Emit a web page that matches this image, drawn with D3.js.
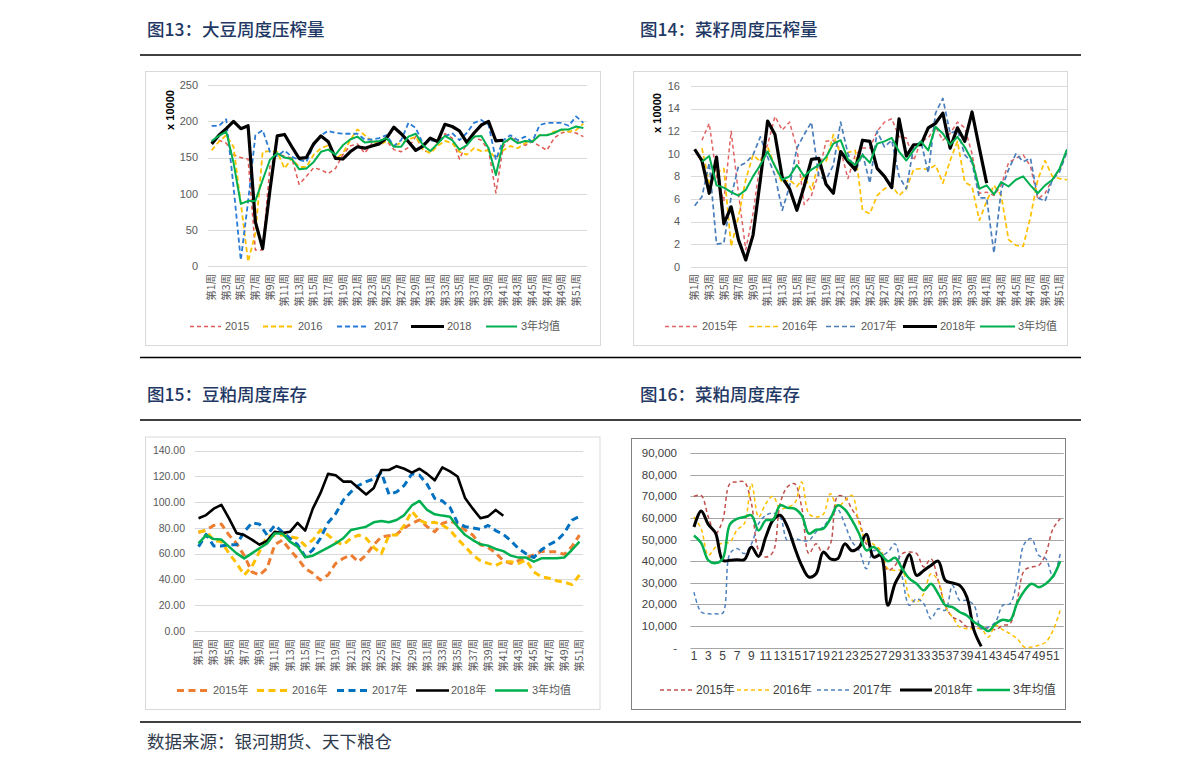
<!DOCTYPE html>
<html><head><meta charset="utf-8">
<script src="https://cdn.jsdelivr.net/npm/d3@7"></script>
<style>
html,body{margin:0;padding:0;background:#fff;}
svg{display:block;}
text{font-family:"Liberation Sans","Noto Sans CJK SC",sans-serif;}
</style></head><body>
<svg id="chart" width="1191" height="770"></svg>
<script>
// ---------- categories ----------
const weeks52 = d3.range(1, 53).map(n => "第" + n + "周");
const weeks51 = d3.range(1, 52).map(n => "第" + n + "周");
const weekNums52 = d3.range(1, 53).map(n => String(n));

// ---------- 图13 大豆周度压榨量 (x10000) ----------
const p1Names = ["2015", "2016", "2017", "2018", "3年均值"];
const p1Y2015 = [173,174,170,154,150,148,22,22,138,155,152,149,113,124,136,133,128,135,154,166,169,156,170,172,173,161,158,164,179,160,157,170,183,177,148,170,178,174,160,101,165,178,172,167,172,166,160,177,184,186,184,179];
const p1Y2016 = [160,172,181,165,87,6,45,158,159,158,135,149,137,137,154,163,167,148,156,174,189,181,173,167,173,167,170,175,179,161,156,166,173,170,158,154,163,159,160,149,160,166,163,170,173,181,181,186,188,186,188,197];
const p1Y2017 = [194,194,203,110,8,89,181,188,158,152,160,151,147,144,167,181,187,184,183,183,183,175,175,177,181,166,174,198,191,169,174,172,179,184,174,184,198,202,195,147,174,181,174,179,172,195,198,198,198,194,207,198];
const p1Y2018 = [169,181,190,200,190,194,61,24,105,180,182,165,149,150,169,180,172,149,148,158,165,163,166,169,177,192,183,172,160,166,177,172,196,193,187,171,184,195,200,173,174];
const p1Avg   = [173,180,186,143,86,90,90,119,147,156,150,148,134,135,144,158,161,154,167,175,179,171,172,173,177,165,165,179,183,167,159,169,180,174,161,167,179,180,163,126,170,177,170,173,172,181,181,184,189,189,193,191];
const p1YTicks = [0, 50, 100, 150, 200, 250];

// ---------- 图14 菜籽周度压榨量 (x10000) ----------
const p2Names = ["2015年", "2016年", "2017年", "2018年", "3年均值"];
const p2Y2015 = [null,11.2,12.7,8.0,5.8,12.0,6.5,1.5,4.7,9.4,10.8,13.3,12.1,12.8,10.5,5.5,6.3,8.3,11.1,11.2,10.3,7.8,9.9,10.5,10.5,12.0,12.8,13.1,11.5,11.4,9.4,11.1,11.4,12.4,11.2,11.8,12.8,12.3,10.0,6.5,6.6,6.3,7.2,9.2,9.6,9.9,8.9,6.0,6.5,7.7,8.6,10.2];
const p2Y2016 = [null,10.5,7.4,8.3,8.7,1.8,4.4,7.7,9.9,9.3,10.6,8.9,7.4,7.7,7.1,8.0,6.8,9.2,9.3,11.7,9.9,10.1,10.3,5.0,4.7,6.3,6.9,7.2,6.3,6.9,8.6,8.7,8.6,9.0,7.4,9.4,11.1,7.5,7.1,4.1,5.8,7.2,6.3,2.4,1.9,1.8,4.4,7.7,9.4,8.0,7.8,7.7];
const p2Y2017 = [5.4,6.2,9.2,2.0,2.1,6.2,8.9,9.2,9.9,11.5,9.7,8.1,5.0,7.1,10.5,11.7,12.8,8.0,7.7,9.0,12.8,10.0,8.4,10.0,7.4,12.0,10.6,11.2,8.0,6.9,10.6,11.1,8.3,13.6,14.9,11.8,12.1,9.9,9.2,6.1,6.1,1.2,6.8,8.6,10.0,9.3,9.6,6.1,5.8,7.7,8.4,10.2];
const p2Y2018 = [10.4,9.4,6.5,9.7,3.8,5.3,2.4,0.6,2.8,7.7,12.9,11.7,7.9,6.9,5.0,7.1,9.5,9.6,7.3,6.5,10.2,9.3,8.6,11.2,11.1,8.7,8.0,7.0,13.1,9.8,10.8,10.8,12.3,12.7,13.6,10.5,12.3,11.1,13.7,10.5,7.4];
const p2Avg   = [null,9.3,9.8,7.2,7.0,6.6,6.3,6.8,8.0,9.0,10.2,8.9,7.7,8.0,9.0,8.0,8.6,9.0,9.7,10.9,11.2,9.5,9.0,9.9,9.2,10.9,11.1,11.4,10.2,9.4,10.3,11.1,10.3,12.4,11.8,10.8,11.5,10.6,9.4,6.9,7.2,6.4,7.5,7.1,7.7,8.0,7.2,6.5,7.2,7.7,8.7,10.4];
const p2YTicks = [0, 2, 4, 6, 8, 10, 12, 14, 16];

// ---------- 图15 豆粕周度库存 ----------
const p3Names = ["2015年", "2016年", "2017年", "2018年", "3年均值"];
const p3Y2015 = [76.5,78.4,82,83,74.5,68,58.5,46,43.5,48.6,67,70.6,63,56.4,48.6,44.8,39.6,43.5,52.5,56.4,59,53.8,59,67,73,74,75,80,83.5,86.2,81,77,83.5,85.4,83,78.4,74.5,67,64.9,60.6,54.6,52.5,54.6,57,59,62,61.5,61.5,59.5,65.5,74.5];
const p3Y2016 = [77,78,70,69.4,60.3,52.5,43.5,50,61.6,73.2,74.5,74.5,73.2,72,66.3,70.6,78.4,74.5,69.4,66.8,72,74.5,72,65,60,74.5,74.5,82,93,86,83.5,84.4,82.3,78.4,71.4,65.5,59,54.6,52.5,50.8,53.8,53.8,52.5,55,46,42,41,39,38,36,43.5];
const p3Y2017 = [65.5,75,66,66,67,67,77,84,83,74.5,82,77,72,67,58,63,72,84,91,101.6,108,113,116,118,123,106,108,113,122,121,114,103,101,96,84,81,80,79,82,78,75,70,64,60,57,63,67,70,76,86,89];
const p3Y2018 = [87.5,90,95,98,87.5,76,74.5,71,67,70,77,76,77,84,78,95,107,122,121,116,116,111,106,111,125,125,128,126,123,126,122,117,127,124,120,103,95,87.5,89,94,89.5];
const p3Avg   = [68,74.5,71.4,71,65.5,60.3,56.4,60.3,64.2,68,75.8,75.8,69.4,65.5,57.2,58.5,61.6,64.7,68,72,78.4,79.7,81,84.4,85.4,84.4,86.2,90,97.5,101,94,90.6,89.6,88.8,81,74.5,70.6,67.3,66.3,63.7,62,58.5,57,57,53.8,56.4,56.4,56.4,57,62.9,69.4];
const p3YTicks = [0, 20, 40, 60, 80, 100, 120, 140];

// ---------- 图16 菜粕周度库存 ----------
const p4Names = ["2015年", "2016年", "2017年", "2018年", "3年均值"];
const p4Y2015 = [70000,70400,60400,52700,58900,75800,76600,76600,66600,45000,41900,44200,66600,74300,75800,65000,43500,48000,43500,48000,70000,69600,64000,58900,48000,46500,45000,35700,38000,43500,44200,43500,37300,41100,31100,19600,14200,12600,9600,9200,8800,9100,8300,10300,11100,21900,35700,37300,38000,43500,55000,59600];
const p4Y2016 = [60400,55000,42700,46500,48400,48800,54500,57300,75800,60400,66600,70000,64300,65000,66600,76600,61900,60400,61600,71200,65000,68000,70400,57300,49600,47800,45000,36500,35700,35700,23400,21100,25000,34200,31100,18800,14200,9600,8800,8800,8800,4900,10300,8300,6500,4200,300,300,1100,2600,8000,17300];
const p4Y2017 = [25700,16500,15700,15700,16000,43500,45800,43500,48000,57300,61200,62200,60400,49600,50400,49600,49600,53500,55800,60400,63800,57000,49000,45000,36500,45000,42700,44200,48000,32700,19600,22700,20300,13400,18000,17300,28800,21900,21900,19600,8800,9600,11900,19600,20300,31100,48000,50400,42700,41100,32700,43500];
const p4Y2018 = [55800,63200,57000,53000,40400,40400,40700,40700,46500,42200,51200,58900,61200,56000,46500,38000,32700,34200,44200,41100,41100,48000,44800,46500,52400,41900,42700,19600,29600,35700,43100,33400,35700,38000,40000,31100,29900,28800,23400,8000,600];
const p4Avg   = [51900,48400,40400,39100,41100,57000,59600,60400,61200,54200,58900,59200,65800,64700,64300,61200,52700,54500,55000,59600,65800,63900,59000,52700,45000,46500,43500,40000,41600,36500,31900,29600,26500,29600,25000,19600,18800,16500,14900,11900,9900,7700,11100,12900,12600,20600,26200,29600,28000,29600,33000,40000];
const p4YTicks = [0, 10000, 20000, 30000, 40000, 50000, 60000, 70000, 80000, 90000];

// ---------- titles ----------
const titles = ["图13：大豆周度压榨量", "图14：菜籽周度压榨量", "图15：豆粕周度库存", "图16：菜粕周度库存"];
const sourceText = "数据来源：银河期货、天下粮仓";

const svg = d3.select("#chart");
const NAVY = "#1f3864";

// page frame text & rules
[[147, 36, 0], [640, 36, 1], [147, 401, 2], [640, 401, 3]].forEach(t => {
  svg.append("text").attr("x", t[0]).attr("y", t[1]).attr("font-size", 17.5).attr("fill", NAVY)
    .attr("font-weight", 500)
    .style("font-family", "'Noto Sans CJK SC',sans-serif").text(titles[t[2]]);
});
[55, 357.5, 420, 722].forEach(yy => {
  svg.append("line").attr("x1", 140).attr("x2", 1081).attr("y1", yy).attr("y2", yy)
    .attr("stroke", "#000").attr("stroke-width", 1.3);
});
svg.append("text").attr("x", 147).attr("y", 747.5).attr("font-size", 17.5).attr("fill", "#2e3a4c")
  .style("font-family", "'Noto Sans CJK SC',sans-serif").text(sourceText);

function drawPanel(cfg, id) {
  const g = svg.append("g");
  const b = cfg.box;
  svg.append("clipPath").attr("id", "clip" + id).append("rect")
    .attr("x", b[0]).attr("y", b[1]).attr("width", b[2] - b[0]).attr("height", b[3] - b[1]);
  const inner = g.append("g").attr("clip-path", "url(#clip" + id + ")");
  const x = d3.scaleBand().domain(cfg.cats).range([cfg.x0, cfg.x1]);
  const y = d3.scaleLinear().domain([cfg.yTicks[0], cfg.yTicks[cfg.yTicks.length - 1]]).range([cfg.yBottom, cfg.yTop]);
  const cx = i => x(cfg.cats[i]) + x.bandwidth() / 2;

  // grid
  inner.selectAll("line.grid").data(cfg.yTicks).enter().append("line")
    .attr("x1", cfg.x0).attr("x2", cfg.x1)
    .attr("y1", d => Math.round(y(d)) + 0.5).attr("y2", d => Math.round(y(d)) + 0.5)
    .attr("stroke", cfg.gridColor).attr("stroke-width", 1);

  // y tick labels
  g.selectAll("text.yt").data(cfg.yTicks).enter().append("text")
    .attr("x", cfg.yLabelX).attr("y", d => y(d)).attr("dy", "0.35em")
    .attr("text-anchor", "end").attr("font-size", cfg.tickFont).attr("fill", cfg.tickColor)
    .text(cfg.yFmt);

  // x tick labels
  const idx = cfg.cats.map((c, i) => i).filter(i => i % 2 === 0);
  if (cfg.rotated) {
    g.selectAll("text.xt").data(idx).enter().append("text")
      .attr("transform", i => `translate(${cx(i)},${cfg.xLabelY}) rotate(-90)`)
      .attr("text-anchor", "end").attr("dy", "0.35em")
      .attr("font-size", 10.5).attr("fill", cfg.tickColor)
      .style("font-family", "'Noto Sans CJK SC',sans-serif")
      .text(i => cfg.cats[i]);
  } else {
    g.selectAll("text.xt").data(idx).enter().append("text")
      .attr("x", i => cx(i)).attr("y", cfg.xLabelY).attr("dy", "0.35em")
      .attr("text-anchor", "middle").attr("font-size", 12).attr("fill", cfg.tickColor)
      .text(i => cfg.cats[i]);
  }

  // series
  const line = d3.line().defined(d => d[1] != null)
    .x(d => cx(d[0])).y(d => y(d[1])).curve(cfg.curve || d3.curveLinear);
  cfg.series.forEach(s => {
    const pts = s.values.map((v, i) => [i, v]);
    inner.append("path").attr("d", line(pts)).attr("fill", "none")
      .attr("stroke", s.color).attr("stroke-width", s.width)
      .attr("stroke-dasharray", s.dash || null)
      .attr("stroke-linejoin", "round");
  });

  // y title
  if (cfg.yTitle) {
    g.append("text").attr("transform", `translate(${cfg.yTitle[0]},${cfg.yTitle[1]}) rotate(-90)`)
      .attr("text-anchor", "middle").attr("dy", "0.35em").attr("font-size", 11)
      .attr("font-weight", "bold").attr("fill", "#000").text("x 10000");
  }

  // legend
  cfg.series.forEach((s, i) => {
    const L = cfg.legend[i];
    g.append("line").attr("x1", L[0]).attr("x2", L[1]).attr("y1", cfg.legendY).attr("y2", cfg.legendY)
      .attr("stroke", s.color).attr("stroke-width", s.width).attr("stroke-dasharray", s.dash || null);
    g.append("text").attr("x", L[2]).attr("y", cfg.legendY).attr("dy", "0.35em")
      .attr("font-size", cfg.legendFont).attr("fill", cfg.tickColor).text(s.name);
  });

  // box
  g.append("rect").attr("x", b[0] + 0.5).attr("y", b[1] + 0.5)
    .attr("width", b[2] - b[0]).attr("height", b[3] - b[1])
    .attr("fill", "none").attr("stroke", cfg.boxColor).attr("stroke-width", cfg.boxWidth || 1);
}

// Panel 1
drawPanel({
  box: [145, 71, 600, 345], boxColor: "#d9d9d9",
  cats: weeks52, x0: 208, x1: 587, yTop: 85.3, yBottom: 266,
  yTicks: p1YTicks, yFmt: d => d, yLabelX: 198, tickFont: 11, tickColor: "#595959",
  gridColor: "#d9d9d9", rotated: true, xLabelY: 274, yTitle: [170, 110],
  legendY: 326.5, legendFont: 11,
  legend: [[190, 221, 225], [263, 293, 298], [337, 369, 374], [411, 444, 447], [486, 517, 521]],
  series: [
    { name: p1Names[0], values: p1Y2015, color: "#e05a55", width: 1.5, dash: "4,3" },
    { name: p1Names[1], values: p1Y2016, color: "#ffc000", width: 1.8, dash: "5,3" },
    { name: p1Names[2], values: p1Y2017, color: "#2a7bd5", width: 1.8, dash: "5,3" },
    { name: p1Names[3], values: p1Y2018, color: "#000000", width: 3.2 },
    { name: p1Names[4], values: p1Avg, color: "#00b050", width: 2 }
  ]
}, 1);

// Panel 2
drawPanel({
  box: [633, 71, 1067, 345], boxColor: "#d9d9d9",
  cats: weeks52, x0: 691, x1: 1070.6, yTop: 86, yBottom: 266.7,
  yTicks: p2YTicks, yFmt: d => d, yLabelX: 680, tickFont: 11, tickColor: "#595959",
  gridColor: "#d9d9d9", rotated: true, xLabelY: 274, yTitle: [657, 113],
  legendY: 326.5, legendFont: 11,
  legend: [[665, 699, 702], [749, 779, 782], [826, 858, 861], [903, 937, 940], [980, 1015, 1018]],
  series: [
    { name: p2Names[0], values: p2Y2015, color: "#e06464", width: 1.5, dash: "4,3" },
    { name: p2Names[1], values: p2Y2016, color: "#ffc000", width: 1.7, dash: "5,3" },
    { name: p2Names[2], values: p2Y2017, color: "#4a7ebb", width: 1.7, dash: "5,3" },
    { name: p2Names[3], values: p2Y2018, color: "#000000", width: 3.2 },
    { name: p2Names[4], values: p2Avg, color: "#00b050", width: 2 }
  ]
}, 2);

// Panel 3
drawPanel({
  box: [145, 436.5, 599.5, 709], boxColor: "#d9d9d9",
  cats: weeks51, x0: 194.7, x1: 583.3, yTop: 450.7, yBottom: 631,
  yTicks: p3YTicks, yFmt: d => d3.format(".2f")(d), yLabelX: 185, tickFont: 10.5, tickColor: "#595959",
  gridColor: "#d9d9d9", rotated: true, xLabelY: 639,
  legendY: 690.5, legendFont: 11,
  legend: [[177, 208, 213], [257, 288, 292], [337, 368, 372], [416, 449, 451], [495, 528, 532]],
  series: [
    { name: p3Names[0], values: p3Y2015, color: "#ed7d31", width: 3, dash: "7,4.5" },
    { name: p3Names[1], values: p3Y2016, color: "#ffc000", width: 3, dash: "7,4.5" },
    { name: p3Names[2], values: p3Y2017, color: "#0070c0", width: 3, dash: "7,4.5" },
    { name: p3Names[3], values: p3Y2018, color: "#000000", width: 2.6 },
    { name: p3Names[4], values: p3Avg, color: "#00b050", width: 2.5 }
  ]
}, 3);

// Panel 4
drawPanel({
  box: [631, 438, 1065, 709], boxColor: "#808080",
  cats: weekNums52, x0: 690.4, x1: 1063.8, yTop: 453, yBottom: 647.7,
  yTicks: p4YTicks, yFmt: d => d === 0 ? "-" : d3.format(",")(d), yLabelX: 677, tickFont: 11.5, tickColor: "#404040",
  gridColor: "#a6a6a6", rotated: false, xLabelY: 656,
  legendY: 690, legendFont: 12,
  curve: d3.curveCatmullRom,
  legend: [[660, 693, 696], [737, 770, 773], [817, 850, 853], [900, 932, 934], [977, 1010, 1013]],
  series: [
    { name: p4Names[0], values: p4Y2015, color: "#c0504d", width: 1.5, dash: "4,3" },
    { name: p4Names[1], values: p4Y2016, color: "#ffc000", width: 1.5, dash: "4,3" },
    { name: p4Names[2], values: p4Y2017, color: "#4f81bd", width: 1.5, dash: "4,3" },
    { name: p4Names[3], values: p4Y2018, color: "#000000", width: 3 },
    { name: p4Names[4], values: p4Avg, color: "#00b050", width: 2.5 }
  ]
}, 4);
</script></body></html>
